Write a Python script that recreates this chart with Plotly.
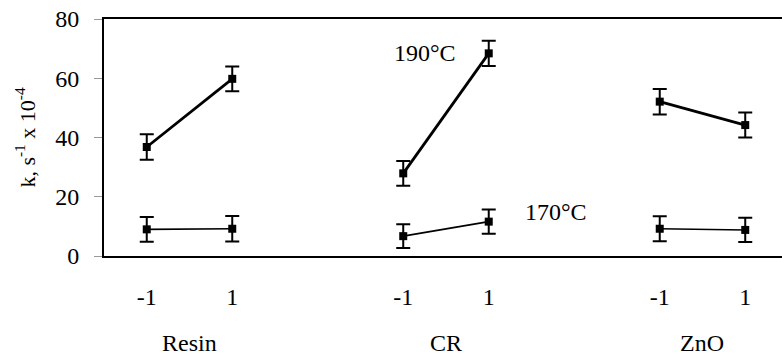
import plotly.graph_objects as go

# Factor levels for each of the three formulation variables
factors = ["Resin", "CR", "ZnO"]
levels = ["-1", "1"]

# Rate constants k (s^-1 x 10^-4) at each level, per factor: [-1, 1]
k_190 = [[36.8, 59.8], [27.9, 68.4], [52.1, 44.2]]
k_170 = [[9.0, 9.2], [6.7, 11.6], [9.2, 8.8]]

# Error bar half-widths
err_190 = [[4.3, 4.2], [4.2, 4.3], [4.3, 4.2]]
err_170 = [[4.2, 4.3], [4.0, 4.1], [4.2, 4.1]]

y_ticks = [0, 20, 40, 60, 80]

FONT = "Times New Roman, Liberation Serif, serif"

# Each factor occupies two adjacent slots, groups separated by one empty slot
group_step = 3
xpos, xlab, group_centers = [], [], []
for gi, _ in enumerate(factors):
    base = gi * group_step
    for li, lab in enumerate(levels):
        xpos.append(base + li)
        xlab.append(lab)
    group_centers.append(base + 0.5)


def segmented(values):
    """Flatten per-factor pairs, inserting None so groups are not joined."""
    out = []
    for gi, pair in enumerate(values):
        if gi:
            out.append(None)
        out.extend(pair)
    return out


xs = segmented([[gi * group_step + li for li in range(len(levels))]
                for gi in range(len(factors))])

fig = go.Figure()

for vals, errs, lw in ((k_190, err_190, 2.8), (k_170, err_170, 1.6)):
    fig.add_trace(go.Scatter(
        x=xs,
        y=segmented(vals),
        mode="lines+markers",
        connectgaps=False,
        line=dict(color="black", width=lw),
        marker=dict(symbol="square", size=8, color="black"),
        error_y=dict(type="data", array=segmented(errs), symmetric=True,
                     color="black", thickness=2, width=7),
        showlegend=False,
        cliponaxis=False,
    ))

annotations = [
    dict(x=3.25, y=68.4, xref="x", yref="y", text="190°C", showarrow=False,
         font=dict(family=FONT, size=24, color="black")),
    dict(x=4.79, y=15.0, xref="x", yref="y", text="170°C", showarrow=False,
         font=dict(family=FONT, size=24, color="black")),
]
for name, cx in zip(factors, group_centers):
    annotations.append(dict(
        x=cx, y=-0.367, xref="x", yref="paper", text=name, showarrow=False,
        yanchor="middle", font=dict(family=FONT, size=24, color="black")))

fig.update_layout(
    width=782, height=355,
    margin=dict(l=104, r=0, t=19, b=99),
    paper_bgcolor="white",
    plot_bgcolor="white",
    font=dict(family=FONT, size=24, color="black"),
    annotations=annotations,
    xaxis=dict(
        range=[-0.5, 7.43],
        tickmode="array", tickvals=xpos, ticktext=xlab,
        ticks="", showgrid=False, zeroline=False,
        showline=True, linecolor="black", linewidth=2, mirror=True,
        ticklabelstandoff=18,
        tickfont=dict(family=FONT, size=24, color="black"),
    ),
    yaxis=dict(
        range=[0, 80],
        tickmode="array", tickvals=y_ticks,
        ticks="outside", ticklen=8, tickwidth=1, tickcolor="#999999",
        showgrid=False, zeroline=False,
        showline=True, linecolor="black", linewidth=2,
        ticklabelstandoff=10,
        tickfont=dict(family=FONT, size=24, color="black"),
        title=dict(text="k, s<sup>-1</sup> x 10<sup>-4</sup>",
                   font=dict(family=FONT, size=22, color="black"),
                   standoff=14),
    ),
)

fig.write_html("out.html")
